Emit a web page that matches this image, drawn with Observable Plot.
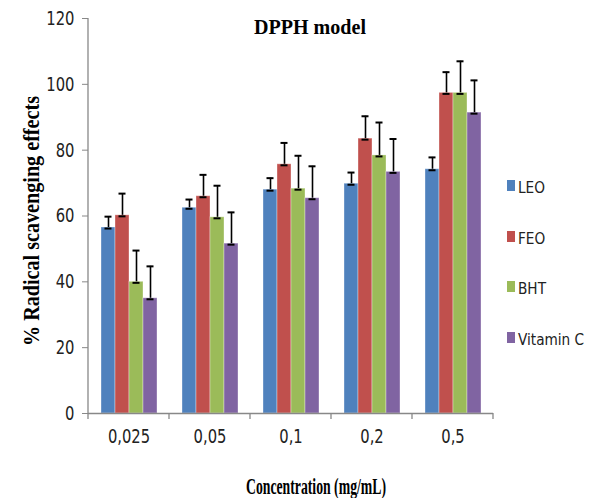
<!DOCTYPE html>
<html>
<head>
<meta charset="utf-8">
<script src="https://cdn.jsdelivr.net/npm/d3@7"></script>
<script src="https://cdn.jsdelivr.net/npm/@observablehq/plot@0.6"></script>
<style>
  html, body { margin: 0; padding: 0; background: #fff; }
  #chart { width: 590px; height: 498px; }
</style>
</head>
<body>
<div id="chart"></div>
<script>
const concentrations = ["0,025", "0,05", "0,1", "0,2", "0,5"];
const seriesNames = ["LEO", "FEO", "BHT", "Vitamin C"];
const seriesColors = ["#4F81BD", "#C0504D", "#9BBB59", "#8064A2"];
const LEO = [56.5, 62.5, 68.0, 69.8, 74.2];
const LEO_err = [3.3, 2.5, 3.5, 3.4, 3.6];
const FEO = [60.2, 66.0, 75.7, 83.5, 97.4];
const FEO_err = [6.6, 6.5, 6.5, 6.8, 6.3];
const BHT = [40.0, 59.6, 68.3, 78.4, 97.4];
const BHT_err = [9.5, 9.6, 10.0, 10.0, 9.6];
const VITC = [35.0, 51.6, 65.4, 73.4, 91.4];
const VITC_err = [9.7, 9.5, 9.7, 10.0, 9.8];
const yTicks = [0, 20, 40, 60, 80, 100, 120];

const values = [LEO, FEO, BHT, VITC];
const errors = [LEO_err, FEO_err, BHT_err, VITC_err];
const data = [];
concentrations.forEach((c, i) => {
  seriesNames.forEach((s, j) => {
    data.push({conc: c, series: s, value: values[j][i], err: errors[j][i]});
  });
});

const tickFont = "'Liberation Sans Narrow', 'DejaVu Sans Condensed', 'Liberation Sans', sans-serif";
const serif = "'Liberation Serif', 'DejaVu Serif', serif";

const chart = Plot.plot({
  width: 590,
  height: 498,
  marginLeft: 88,
  marginRight: 97,
  marginTop: 18,
  marginBottom: 85,
  style: {background: "#fff", overflow: "visible"},
  fx: {domain: concentrations, paddingInner: 0, paddingOuter: 0, label: null},
  x: {domain: seriesNames, paddingInner: 0, paddingOuter: 0.79, axis: null},
  y: {domain: [0, 120], label: null},
  color: {domain: seriesNames, range: seriesColors},
  marks: [
    Plot.barY(data, {fx: "conc", x: "series", y: "value", fill: "series", stroke: "#ffffff", strokeOpacity: 0.35, strokeWidth: 1}),
    Plot.ruleX(data, {fx: "conc", x: "series", y1: "value", y2: d => d.value + d.err, stroke: "#000", strokeWidth: 1.6}),
    Plot.tickY(data, {fx: "conc", x: "series", y: d => d.value + d.err, stroke: "#000", strokeWidth: 2, insetLeft: 3.5, insetRight: 3.5}),
    Plot.tickY(data, {fx: "conc", x: "series", y: "value", stroke: "#000", strokeWidth: 2, insetLeft: 3.5, insetRight: 3.5, dy: 1}),
    Plot.ruleY([0], {stroke: "#888", strokeWidth: 1.3}),
    Plot.axisY({ticks: yTicks, tickSize: 6, tickPadding: 8, stroke: "#888", fontSize: 20, fontFamily: tickFont, fill: "#222", label: null}),
    Plot.axisFx({anchor: "bottom", tickSize: 0, tickPadding: 15, fontSize: 20, fontFamily: tickFont, fill: "#222", label: null})
  ]
});

document.getElementById("chart").appendChild(chart);

const svg = d3.select(chart);

// narrow the sans-serif tick labels (reference uses a condensed face)
svg.selectAll("text").each(function() {
  const len = this.getComputedTextLength();
  if (len > 0) {
    d3.select(this).attr("textLength", len * 0.82).attr("lengthAdjust", "spacingAndGlyphs");
  }
});

const yS = chart.scale("y");
const fxS = chart.scale("fx");
const x0 = 88;
const yBottom = yS.apply(0), yTop = yS.apply(120);

// y axis line
svg.append("line").attr("x1", x0).attr("x2", x0).attr("y1", yTop).attr("y2", yBottom)
  .attr("stroke", "#888").attr("stroke-width", 1.3);

// category boundary ticks
const bounds = concentrations.map(c => x0 + fxS.apply(c) - fxS.apply(concentrations[0]));
bounds.push(bounds[bounds.length - 1] + fxS.bandwidth);
bounds.forEach(b => {
  svg.append("line").attr("x1", b).attr("x2", b).attr("y1", yBottom).attr("y2", yBottom + 6)
    .attr("stroke", "#888").attr("stroke-width", 1.3);
});

// title
svg.append("text").text("DPPH model")
  .attr("x", 310).attr("y", 34).attr("text-anchor", "middle")
  .attr("font-family", serif).attr("font-weight", "bold").attr("font-size", 20)
  .attr("textLength", 112).attr("lengthAdjust", "spacingAndGlyphs").attr("fill", "#000");

// x label
svg.append("text").text("Concentration (mg/mL)")
  .attr("x", 316).attr("y", 494).attr("text-anchor", "middle")
  .attr("font-family", serif).attr("font-weight", "bold").attr("font-size", 23)
  .attr("textLength", 140).attr("lengthAdjust", "spacingAndGlyphs").attr("fill", "#000");

// y label
svg.append("text").text("% Radical scavenging effects")
  .attr("transform", "translate(39,221) rotate(-90)").attr("text-anchor", "middle")
  .attr("font-family", serif).attr("font-weight", "bold").attr("font-size", 23)
  .attr("textLength", 250).attr("lengthAdjust", "spacingAndGlyphs").attr("fill", "#000");

// legend
const legendY = [186, 237, 287, 338];
seriesNames.forEach((s, i) => {
  svg.append("rect").attr("x", 507).attr("y", legendY[i] - 6).attr("width", 8).attr("height", 11)
    .attr("fill", seriesColors[i]);
  const t = svg.append("text").text(s).attr("x", 518).attr("y", legendY[i] + 7)
    .attr("text-anchor", "start")
    .attr("font-family", tickFont).attr("font-size", 16.5).attr("fill", "#222");
  const len = t.node().getComputedTextLength();
  t.attr("textLength", len * 0.92).attr("lengthAdjust", "spacingAndGlyphs");
});
</script>
</body>
</html>
